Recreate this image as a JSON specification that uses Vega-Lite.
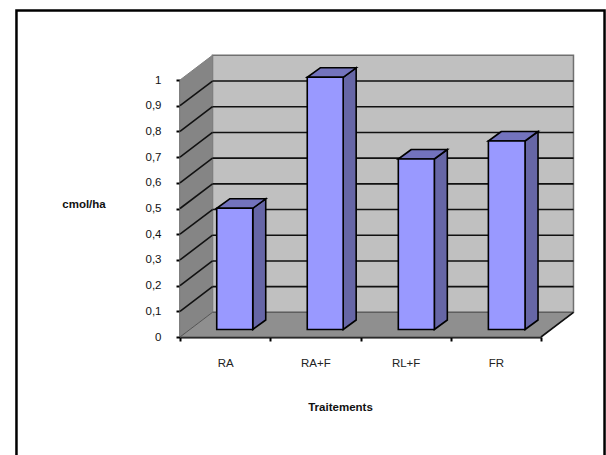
{
"$schema":"https://vega.github.io/schema/vega-lite/v6.json",
"width":361,"height":257,
"autosize":"none",
"padding":{"left":180,"top":80,"right":65,"bottom":118},
"background":"white",
"config":{"view":{"stroke":null},"font":"Liberation Sans"},
"datasets":{
"wall":[{"x0":0.36,"x1":4.36,"lo":0.096,"hi":1.096}],
"frame":[{"x0":-1.812,"x1":4.704,"lo":-0.6,"hi":1.2704}],
"leftwall":[{"x":0,"lo":0,"hi":1},{"x":0.36,"lo":0.096,"hi":1.096}],
"floor":[{"y":0,"a":0,"b":4},{"y":0.096,"a":0.36,"b":4.36}],
"grid":[{"v":0.1,"w":0.196},{"v":0.2,"w":0.296},{"v":0.3,"w":0.396},{"v":0.4,"w":0.496},{"v":0.5,"w":0.596},{"v":0.6,"w":0.696},{"v":0.7,"w":0.796},{"v":0.8,"w":0.896},{"v":0.9,"w":0.996}],
"bars":[
{"cat":"RA","value":0.472,"x0":0.407,"x1":0.806,"base":0.0292,"top":0.5008},
{"cat":"RA+F","value":0.981,"x0":1.41,"x1":1.808,"base":0.0292,"top":1.0105},
{"cat":"RL+F","value":0.663,"x0":2.419,"x1":2.818,"base":0.0292,"top":0.6926},
{"cat":"FR","value":0.733,"x0":3.417,"x1":3.823,"base":0.0292,"top":0.7626}],
"sides":[
{"cat":"RA","x":0.806,"lo":0.0292,"hi":0.5008},{"cat":"RA","x":0.95,"lo":0.0662,"hi":0.5378},
{"cat":"RA+F","x":1.808,"lo":0.0292,"hi":1.0105},{"cat":"RA+F","x":1.952,"lo":0.0662,"hi":1.0475},
{"cat":"RL+F","x":2.818,"lo":0.0292,"hi":0.6926},{"cat":"RL+F","x":2.962,"lo":0.0662,"hi":0.7296},
{"cat":"FR","x":3.823,"lo":0.0292,"hi":0.7626},{"cat":"FR","x":3.967,"lo":0.0662,"hi":0.7996}],
"tops":[
{"cat":"RA","y":0.5008,"a":0.407,"b":0.806},{"cat":"RA","y":0.5378,"a":0.551,"b":0.95},
{"cat":"RA+F","y":1.0105,"a":1.41,"b":1.808},{"cat":"RA+F","y":1.0475,"a":1.554,"b":1.952},
{"cat":"RL+F","y":0.6926,"a":2.419,"b":2.818},{"cat":"RL+F","y":0.7296,"a":2.563,"b":2.962},
{"cat":"FR","y":0.7626,"a":3.417,"b":3.823},{"cat":"FR","y":0.7996,"a":3.561,"b":3.967}]
},
"layer":[
{"data":{"name":"wall"},"mark":{"type":"rect","fill":"#c0c0c0","stroke":"#707070","strokeWidth":1.5},
 "encoding":{
  "x":{"field":"x0","type":"quantitative","scale":{"domain":[0,4],"nice":false,"zero":false},
   "axis":{"title":"Traitements","titleFontSize":11.5,"titleFontWeight":"bold","titleColor":"#111","titleX":160,"titleY":70,"titleBaseline":"middle","titleAnchor":"middle","titleAlign":"center",
    "values":[0,0.5,1,1.5,2,2.5,3,3.5,4],"labelExpr":"datum.value==0.5?'RA':datum.value==1.5?'RA+F':datum.value==2.5?'RL+F':datum.value==3.5?'FR':''",
    "grid":false,"domainColor":"black","domainWidth":2,"tickColor":"black","tickWidth":2,"tickSize":4,
    "tickOpacity":{"condition":{"test":"datum.value%1==0","value":1},"value":0},
    "labelFontSize":11.5,"labelColor":"#222","labelPadding":16,"labelAngle":0,"labelOverlap":false,"labelFlush":false}},
  "x2":{"field":"x1"},
  "y":{"field":"lo","type":"quantitative","scale":{"domain":[0,1],"nice":false,"zero":false},
   "axis":{"title":"cmol/ha","titleFontSize":11.5,"titleFontWeight":"bold","titleColor":"#111","titleAngle":0,"titleX":-96.5,"titleY":124,"titleBaseline":"middle","titleAlign":"center","titleAnchor":"middle",
    "values":[0,0.1,0.2,0.3,0.4,0.5,0.6,0.7,0.8,0.9,1],"tickCount":11,"labelExpr":"replace(format(datum.value,'.1~f'),'.',',')",
    "grid":false,"domainColor":"black","domainWidth":2,"tickColor":"black","tickWidth":2,"tickSize":4,
    "labelFontSize":11.5,"labelColor":"#111","labelPadding":15,"labelOverlap":false,"labelFlush":false}},
  "y2":{"field":"hi"}}},
{"data":{"name":"frame"},"mark":{"type":"rect","fill":"transparent","stroke":"black","strokeWidth":2.5,"clip":false},
 "encoding":{"x":{"field":"x0","type":"quantitative"},"x2":{"field":"x1"},"y":{"field":"lo","type":"quantitative"},"y2":{"field":"hi"}}},
{"data":{"name":"leftwall"},"mark":{"type":"area","fill":"#858585","stroke":"#808080","strokeWidth":1},
 "encoding":{"x":{"field":"x","type":"quantitative"},"y":{"field":"lo","type":"quantitative"},"y2":{"field":"hi"}}},
{"data":{"name":"floor"},"mark":{"type":"area","orient":"horizontal","fill":"#8f8f8f","stroke":"#555555","strokeWidth":1},
 "encoding":{"y":{"field":"y","type":"quantitative"},"x":{"field":"a","type":"quantitative"},"x2":{"field":"b"}}},
{"data":{"name":"grid"},"mark":{"type":"rule","color":"#111","strokeWidth":1.6},
 "encoding":{"x":{"datum":0.36},"x2":{"datum":4.36},"y":{"field":"w","type":"quantitative"}}},
{"data":{"name":"grid"},"mark":{"type":"rule","color":"#111","strokeWidth":1.6},
 "encoding":{"x":{"datum":0},"x2":{"datum":0.36},"y":{"field":"v","type":"quantitative"},"y2":{"field":"w"}}},
{"data":{"values":[{"a":0,"b":0}]},"mark":{"type":"rule","color":"#111","strokeWidth":1.6},
 "encoding":{"x":{"datum":4},"x2":{"datum":4.36},"y":{"datum":0},"y2":{"datum":0.096}}},
{"data":{"name":"sides"},"mark":{"type":"area","fill":"#6666a6","stroke":"black","strokeWidth":1.6},
 "encoding":{"detail":{"field":"cat"},"x":{"field":"x","type":"quantitative"},"y":{"field":"lo","type":"quantitative"},"y2":{"field":"hi"}}},
{"data":{"name":"tops"},"mark":{"type":"area","orient":"horizontal","fill":"#7373bd","stroke":"black","strokeWidth":1.6},
 "encoding":{"detail":{"field":"cat"},"y":{"field":"y","type":"quantitative"},"x":{"field":"a","type":"quantitative"},"x2":{"field":"b"}}},
{"data":{"name":"bars"},"mark":{"type":"rect","fill":"#9999ff","stroke":"black","strokeWidth":1.6},
 "encoding":{"x":{"field":"x0","type":"quantitative"},"x2":{"field":"x1"},"y":{"field":"base","type":"quantitative"},"y2":{"field":"top"}}}
]
}
